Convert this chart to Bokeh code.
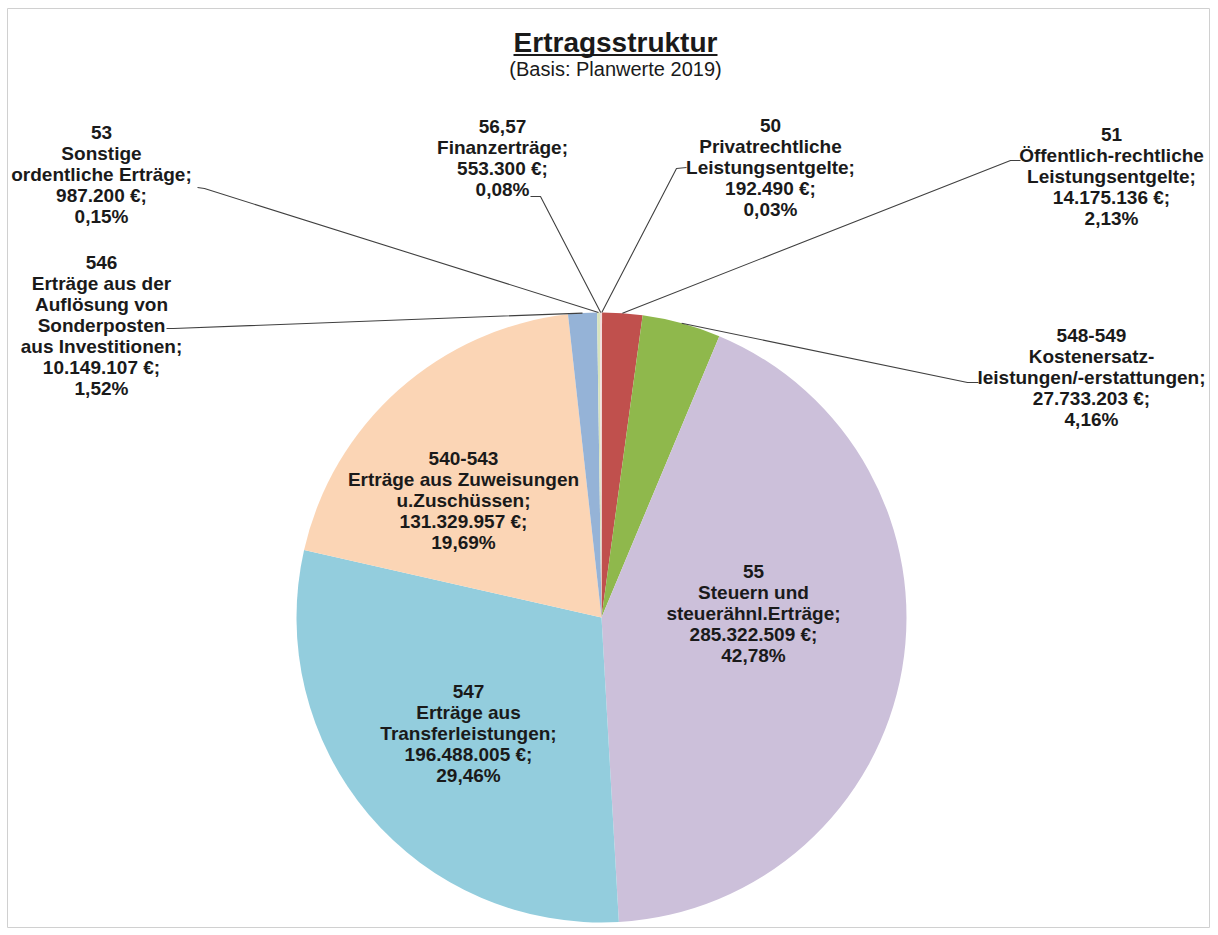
import math
from bokeh.plotting import figure
from bokeh.models import Range1d, ColumnDataSource
from bokeh.core.properties import value
from bokeh.embed import file_html
from bokeh.resources import INLINE

# ---------------- data (clockwise from 12 o'clock) ----------------
codes = ["50", "51", "548-549", "55", "547", "540-543", "546", "53", "56,57"]
names = [
    "Privatrechtliche\nLeistungsentgelte",
    "Öffentlich-rechtliche\nLeistungsentgelte",
    "Kostenersatz-\nleistungen/-erstattungen",
    "Steuern und\nsteuerähnl.Erträge",
    "Erträge aus\nTransferleistungen",
    "Erträge aus Zuweisungen\nu.Zuschüssen",
    "Erträge aus der\nAuflösung von\nSonderposten\naus Investitionen",
    "Sonstige\nordentliche Erträge",
    "Finanzerträge",
]
amounts = [192490, 14175136, 27733203, 285322509, 196488005,
           131329957, 10149107, 987200, 553300]
colors = ["#E6B9B8", "#C0504D", "#8FB84C", "#CCC0DA", "#93CDDD",
          "#FBD5B5", "#95B3D7", "#D7E4BD", "#F2DCDB"]

title = "Ertragsstruktur"
subtitle = "(Basis: Planwerte 2019)"

# ---------------- layout (page pixel coordinates) ----------------
FIG_W, FIG_H = 1210, 928
LEFT, TOP = 7, 8
PAGE_H = 935
def Y(py):
    return PAGE_H - py

CX, CY, R = 601, Y(617), 305
label_pos = {
    "50": (770, 167), "51": (1111, 176), "548-549": (1091, 377),
    "55": (753, 613), "547": (468, 733), "540-543": (463, 500),
    "546": (101, 325), "53": (101, 174), "56,57": (502, 157),
}
leader_pts = {  # label-side start, elbow
    "53": [(197, 187), (204, 188)],
    "546": [(166, 328), (173, 328)],
    "56,57": [(530, 196), (540, 196)],
    "50": [(686, 167), (676, 168)],
    "51": [(1020, 160), (1010, 160)],
    "548-549": [(978, 382), (967, 382)],
}

total = sum(amounts)
fracs = [a / total for a in amounts]

def fmt_amount(a):
    return f"{a:,}".replace(",", ".") + " €"

def fmt_pct(f):
    return f"{f*100:.2f}".replace(".", ",") + "%"

starts, ends, mids = [], [], []
cum = 0.0
for f in fracs:
    s = cum
    cum += f
    starts.append(math.pi / 2 - 2 * math.pi * s)
    ends.append(math.pi / 2 - 2 * math.pi * cum)
    mids.append(2 * math.pi * (s + f / 2))

p = figure(width=FIG_W, height=FIG_H, output_backend="svg", toolbar_location=None,
           x_range=Range1d(LEFT, FIG_W), y_range=Range1d(Y(FIG_H), Y(TOP)),
           x_axis_location=None, y_axis_location=None,
           min_border_left=LEFT, min_border_top=TOP,
           min_border_right=0, min_border_bottom=0, tools="")
p.xgrid.visible = False
p.ygrid.visible = False
p.outline_line_color = "#D0D0D0"
p.outline_line_width = 1
p.background_fill_color = "white"

src = ColumnDataSource(dict(start=starts, end=ends, color=colors))
p.wedge(x=CX, y=CY, radius=R, start_angle="start", end_angle="end",
        direction="clock", fill_color="color", line_color=None, source=src)

# leader lines
xs, ys = [], []
for i, c in enumerate(codes):
    if c in leader_pts:
        (x0, y0), (x1, y1) = leader_pts[c]
        ex = CX + R * math.sin(mids[i])
        ey = CY + R * math.cos(mids[i])
        xs.append([x0, x1, ex])
        ys.append([Y(y0), Y(y1), ey])
p.multi_line(xs=xs, ys=ys, line_color="#404040", line_width=1.1)

# labels
lx, ly, lt = [], [], []
for i, c in enumerate(codes):
    x, y = label_pos[c]
    lx.append(x)
    ly.append(Y(y))
    lt.append(f"{c}\n{names[i]};\n{fmt_amount(amounts[i])};\n{fmt_pct(fracs[i])}")
p.text(x=lx, y=ly, text=lt, text_align="center", text_baseline="middle",
       text_font=value("Liberation Sans"), text_font_style="bold",
       text_font_size="19px", text_line_height=1.0, text_color="#1A1A1A")

# title
p.text(x=[615], y=[Y(42)], text=[title], text_align="center",
       text_baseline="middle", text_font=value("Liberation Sans"),
       text_font_style="bold", text_font_size="28px", text_color="#1A1A1A")
p.segment(x0=[513], y0=[Y(54.5)], x1=[717], y1=[Y(54.5)],
          line_color="#1A1A1A", line_width=2)
p.text(x=[615], y=[Y(68)], text=[subtitle], text_align="center",
       text_baseline="middle", text_font=value("Liberation Sans"),
       text_font_size="20px", text_color="#1A1A1A")

open("out.html", "w").write(file_html(p, INLINE))
